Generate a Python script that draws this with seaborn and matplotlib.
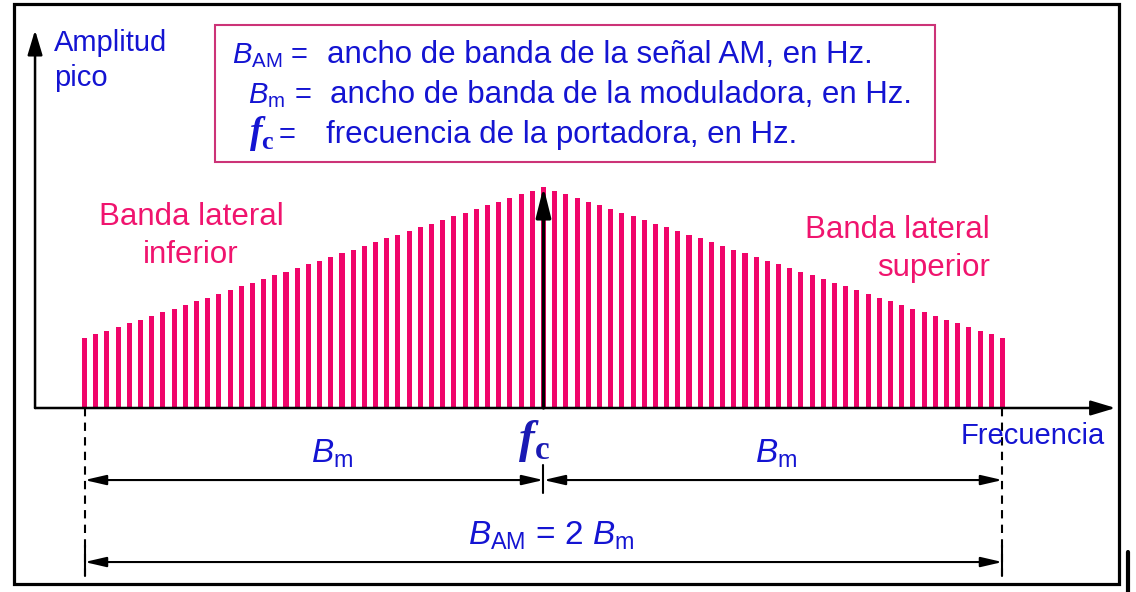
import matplotlib.pyplot as plt
import seaborn as sns
import pandas as pd
from matplotlib.patches import Rectangle
from matplotlib.transforms import Affine2D

# spectral lines of an AM signal: offset from the carrier (in line spacings) and peak amplitude
lower_offsets = list(range(-41, 0))
lower_amp = [0.317, 0.334, 0.350, 0.367, 0.384, 0.400, 0.417, 0.434, 0.450, 0.467,
             0.484, 0.500, 0.517, 0.534, 0.550, 0.567, 0.583, 0.600, 0.617, 0.633,
             0.650, 0.667, 0.683, 0.700, 0.717, 0.733, 0.750, 0.767, 0.783, 0.800,
             0.817, 0.833, 0.850, 0.867, 0.883, 0.900, 0.917, 0.933, 0.950, 0.967,
             0.983]
carrier_offset = [0]
carrier_amp = [1.0]
upper_offsets = list(range(1, 42))
upper_amp = [0.983, 0.967, 0.950, 0.933, 0.917, 0.900, 0.883, 0.867, 0.850, 0.833,
             0.817, 0.800, 0.783, 0.767, 0.750, 0.733, 0.717, 0.700, 0.683, 0.667,
             0.650, 0.633, 0.617, 0.600, 0.583, 0.567, 0.550, 0.534, 0.517, 0.500,
             0.484, 0.467, 0.450, 0.434, 0.417, 0.400, 0.384, 0.367, 0.350, 0.334,
             0.317]

band_edge = 41  # last side line (B_m away from the carrier)

legend_symbols = [r'$B_{\mathrm{AM}}$', r'$B_{\mathrm{m}}$', r'$\mathbfit{f}_{\mathbf{c}}$']
legend_texts = ['ancho de banda de la señal AM, en Hz.',
                'ancho de banda de la moduladora, en Hz.',
                'frecuencia de la portadora, en Hz.']

spectrum = pd.DataFrame({
    'offset': lower_offsets + carrier_offset + upper_offsets,
    'amp': lower_amp + carrier_amp + upper_amp,
})

sns.set_theme(style='white')
plt.rcParams['font.family'] = ['Liberation Sans', 'DejaVu Sans']
plt.rcParams['mathtext.fontset'] = 'custom'
plt.rcParams['mathtext.rm'] = 'Liberation Sans'
plt.rcParams['mathtext.it'] = 'Liberation Sans:italic'
plt.rcParams['mathtext.bf'] = 'Liberation Serif:bold'
plt.rcParams['mathtext.bfit'] = 'Liberation Serif:bold:italic'

BLUE = '#1414d2'
PINK = '#f0146e'
STEM = '#f0056a'

fig = plt.figure(figsize=(11.36, 5.92), dpi=100)
ax = fig.add_axes([0, 0, 1, 1])
ax.set_xlim(-48.55, 52.93)
ax.set_ylim(-0.8326, 1.8462)
ax.axis('off')

# pixel-style coordinates (origin top-left) for the decoration
px = Affine2D().scale(1 / 1136, -1 / 592).translate(0, 1) + fig.transFigure

# spectral lines
ax.bar(spectrum['offset'], spectrum['amp'], width=0.45, color=STEM, linewidth=0, zorder=2)

# carrier arrow
ax.annotate('', xy=(0, 1.0), xytext=(0, 0),
            arrowprops=dict(arrowstyle='-|>,head_length=1.8,head_width=0.45', color='black',
                            lw=2.4, mutation_scale=10, shrinkA=0, shrinkB=0), zorder=4)

# axes with arrow heads
ax_x0 = -45.42
ax.annotate('', xy=(ax_x0, 1.71), xytext=(ax_x0, 0),
            arrowprops=dict(arrowstyle='-|>,head_length=1.5,head_width=0.45', color='black',
                            lw=1.8, mutation_scale=10, shrinkA=0, shrinkB=0), zorder=3)
ax.annotate('', xy=(51.1, 0), xytext=(ax_x0, 0),
            arrowprops=dict(arrowstyle='-|>,head_length=1.5,head_width=0.45', color='black',
                            lw=1.8, mutation_scale=10, shrinkA=0, shrinkB=0), zorder=3)

# dashed band limits
for xe in (-band_edge, band_edge):
    ax.plot([xe, xe], [0, -0.76], color='black', lw=1.5, ls=(0, (4, 3)), zorder=3)
    ax.plot([xe, xe], [-0.62, -0.76], color='black', lw=1.5, zorder=3)

# dimension arrows
dim = dict(arrowstyle='<|-|>,head_length=1.3,head_width=0.3', color='black',
           lw=1.5, mutation_scale=10, shrinkA=0, shrinkB=0)
ax.annotate('', xy=(0, -0.326), xytext=(-band_edge, -0.326), arrowprops=dim)
ax.annotate('', xy=(band_edge, -0.326), xytext=(0, -0.326), arrowprops=dim)
ax.plot([0, 0], [-0.26, -0.385], color='black', lw=1.5)
ax.annotate('', xy=(band_edge, -0.697), xytext=(-band_edge, -0.697), arrowprops=dim)

# labels
ax.text(54, 29, 'Amplitud\npico', transform=px, ha='left', va='top', color=BLUE,
        fontsize=21, linespacing=1.3)
ax.text(961, 436, 'Frecuencia', transform=px, ha='left', va='center', color=BLUE, fontsize=21)
ax.text(191, 236, 'Banda lateral\ninferior', transform=px, ha='center', va='center',
        color=PINK, fontsize=22.5, linespacing=1.32)
ax.text(990, 249, 'Banda lateral\nsuperior', transform=px, ha='right', va='center',
        multialignment='right', color=PINK, fontsize=22.5, linespacing=1.32)
ax.text(332, 454, r'$B_{\mathrm{m}}$', transform=px, ha='center', va='center',
        color=BLUE, fontsize=24)
ax.text(776, 454, r'$B_{\mathrm{m}}$', transform=px, ha='center', va='center',
        color=BLUE, fontsize=24)
ax.text(534, 441, r'$\mathbfit{f}_{\mathbf{c}}$', transform=px, ha='center', va='center',
        color='#1a1ab4', fontsize=34)
ax.text(551, 536, r'$B_{\mathrm{AM}}$ = 2 $B_{\mathrm{m}}$', transform=px, ha='center',
        va='center', color=BLUE, fontsize=24)

# definitions box
ax.add_patch(Rectangle((215, 25), 720, 137, transform=px, fill=True, facecolor='white',
                       edgecolor='#cc3377', lw=1.5, clip_on=False, zorder=5))
sym_x = [232, 248, 249]
sym_size = [21, 21, 27]
eq_x = [291, 295, 279]
txt_x = [327, 330, 326]
base_y = [63, 103, 143]
for s, t, sx, fs, ex, tx, by in zip(legend_symbols, legend_texts, sym_x, sym_size,
                                     eq_x, txt_x, base_y):
    ax.text(sx, by, s, transform=px, ha='left', va='baseline', color=BLUE,
            fontsize=fs, zorder=6)
    ax.text(ex, by, '=', transform=px, ha='left', va='baseline', color=BLUE,
            fontsize=21, zorder=6)
    ax.text(tx, by, t, transform=px, ha='left', va='baseline', color=BLUE,
            fontsize=22.5, zorder=6)

# outer frame
ax.add_patch(Rectangle((14, 4), 1105, 580, transform=px, fill=False, edgecolor='black',
                       lw=2.3, clip_on=False, zorder=7))
ax.plot([1128, 1128], [552, 592], transform=px, color='black', lw=3, clip_on=False)

fig.savefig('out.png', dpi=100)
